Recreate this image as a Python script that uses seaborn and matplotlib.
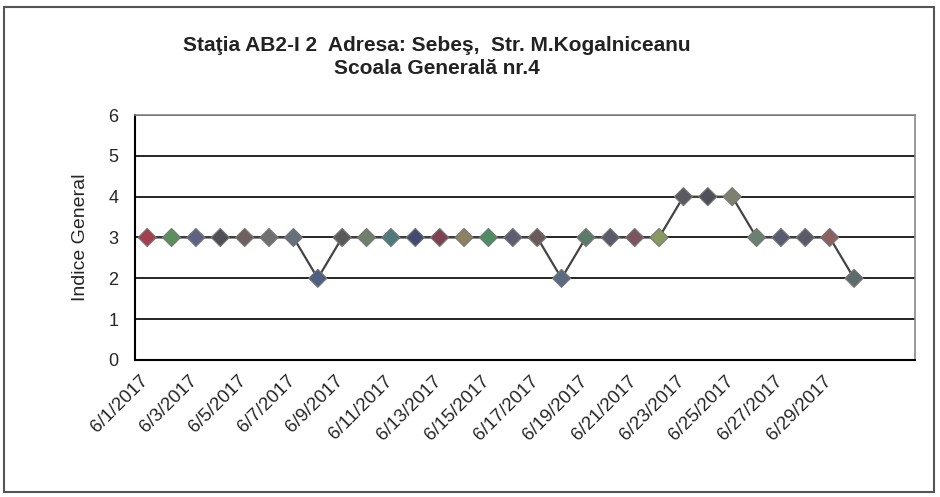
import numpy as np
import pandas as pd
import matplotlib
matplotlib.use("Agg")
import matplotlib.pyplot as plt
import seaborn as sns

# daily values 6/1/2017 .. 6/30/2017
days = list(range(1, 31))
values = [3, 3, 3, 3, 3, 3, 3, 2, 3, 3, 3, 3, 3, 3, 3, 3, 3, 2, 3, 3,
          3, 3, 4, 4, 4, 3, 3, 3, 3, 2]
# excel "vary colours by point"
point_colors = ["#a3404f", "#5c8f5c", "#5f6285", "#4f4f55", "#6f6060", "#707070",
                "#66707a", "#4e5f82", "#5a5a5a", "#6f7f6a", "#4d7a7a", "#434a72",
                "#7d4353", "#8c8160", "#4f8c64", "#5d5d70", "#6a5a5a", "#5a6a80",
                "#5a7a6a", "#5a5a6a", "#7a5560", "#889a60", "#5a5a60", "#505058",
                "#7d8070", "#6a8070", "#5a5a70", "#5a5a66", "#8a6060", "#5f6a6a"]
tick_days = list(range(1, 30, 2))
tick_labels = [f"6/{d}/2017" for d in tick_days]

df = pd.DataFrame({"day": days, "value": values, "pt": [str(d) for d in days]})

sns.set_style("white")
plt.rcParams["font.family"] = ["Liberation Sans", "DejaVu Sans"]

fig = plt.figure(figsize=(9.4, 4.97), dpi=100)
ax = fig.add_axes([0.1436, 0.2757, 0.8298, 0.4929])

sns.lineplot(data=df, x="day", y="value", color="#444444", linewidth=1.6, ax=ax)
sns.scatterplot(data=df, x="day", y="value", hue="pt", palette=point_colors,
                marker="D", s=85, edgecolor="#777777", linewidth=0.8,
                legend=False, ax=ax, zorder=3)

ax.set_xlim(0.5, 32.5)
ax.set_ylim(0, 6)
ax.set_yticks(range(0, 7))
ax.set_yticklabels([str(i) for i in range(0, 7)], fontsize=13)
for y in range(1, 7):
    ax.axhline(y, color="black", linewidth=1.2, zorder=1)

ax.set_xticks(np.arange(0.5, 33, 1), minor=False)
ax.set_xticklabels([])
ax.tick_params(axis="x", direction="out", length=5, width=1, color="black")
ax.tick_params(axis="y", direction="out", length=4, width=1, color="black", pad=8)
for d, lab in zip(tick_days, tick_labels):
    ax.text(d + 0.2, -0.3, lab, rotation=45, ha="right", va="top",
            fontsize=13.5, transform=ax.transData)

ax.set_xlabel("")
ax.set_ylabel("Indice General", fontsize=14, labelpad=14)

for side in ["left", "bottom"]:
    ax.spines[side].set_color("black")
    ax.spines[side].set_linewidth(1.5)
for side in ["top", "right"]:
    ax.spines[side].set_color("#888888")
    ax.spines[side].set_linewidth(1.2)

fig.text(0.465, 0.909, "Staţia AB2-I 2  Adresa: Sebeş,  Str. M.Kogalniceanu",
         ha="center", va="center", fontsize=15, fontweight="bold", color="#222222")
fig.text(0.465, 0.862, "Scoala Generală nr.4", ha="center", va="center",
         fontsize=15, fontweight="bold", color="#222222")

fig.patches.append(plt.Rectangle((0.004, 0.01), 0.99, 0.975, transform=fig.transFigure,
                                 fill=False, edgecolor="#555555", linewidth=1.5))

fig.savefig("out.png", dpi=100)
